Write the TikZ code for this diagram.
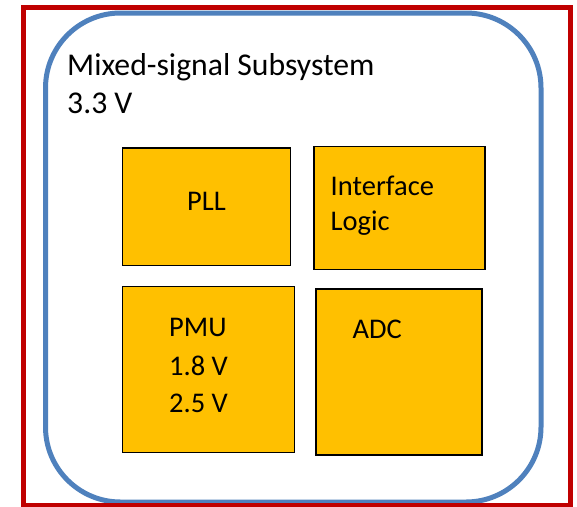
\documentclass[tikz,border=0pt]{standalone}
\usepackage{fontspec}
\setmainfont{Carlito}
\definecolor{framered}{HTML}{C00000}
\definecolor{domainblue}{HTML}{4F81BD}
\definecolor{blockfill}{HTML}{FFC000}
\begin{document}
\begin{tikzpicture}[x=1pt,y=-1pt,
  blockbox/.style={draw=black,fill=blockfill,line width=1.5pt},
  title/.style={anchor=base west,inner sep=0pt,font=\fontsize{31.7}{38}\selectfont},
  label/.style={anchor=base west,inner sep=0pt,font=\fontsize{28.5}{34}\selectfont}]
  \useasboundingbox (0,0) rectangle (577,506);
  \fill[white] (0,0) rectangle (577,506);
  % supply domain outline
  \draw[domainblue,line width=5pt,rounded corners=75pt] (45.5,13) rectangle (541,502);
  % chip boundary
  \draw[framered,line width=5pt] (23.5,7.5) rectangle (570,505.5);
  \node[title] (dname) at (67,75) {Mixed-signal Subsystem};
  \node[title] (dvolt) at (67,113) {3.3 V};
  % functional blocks
  \path[blockbox] (122.5,148) rectangle (290.5,265.5);
  \path[blockbox] (314,146.5) rectangle (485,269.5);
  \path[blockbox] (122.5,286.5) rectangle (294.5,452.5);
  \path[blockbox] (316,289) rectangle (482,455);
  \node[label] (pll) at (187,210.7) {PLL};
  \node[label] (ifa) at (330.5,195) {Interface};
  \node[label] (ifb) at (330.5,230) {Logic};
  \node[label] (pmu) at (169,336) {PMU};
  \node[label] (pmua) at (169,375) {1.8 V};
  \node[label] (pmub) at (169,412.7) {2.5 V};
  \node[label] (adc) at (352.5,338.3) {ADC};
\end{tikzpicture}
\end{document}
